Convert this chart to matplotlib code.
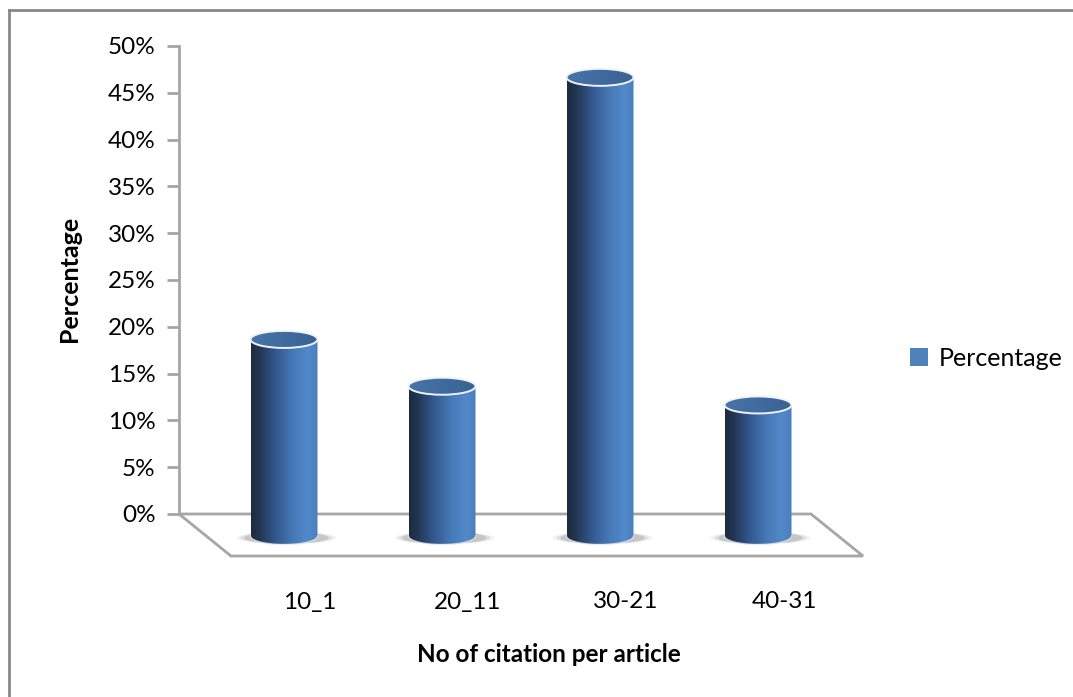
import numpy as np
import matplotlib
matplotlib.use("Agg")
import matplotlib.pyplot as plt
from matplotlib.colors import LinearSegmentedColormap
from matplotlib.lines import Line2D
from matplotlib.patches import Ellipse, PathPatch, Polygon, Patch
from matplotlib.path import Path
from matplotlib.transforms import ScaledTranslation, IdentityTransform

categories = ['10_1', '20_11', '30-21', '40-31']
percentage = [0.21, 0.16, 0.49, 0.14]
yticks = [0.0, 0.05, 0.10, 0.15, 0.20, 0.25, 0.30, 0.35, 0.40, 0.45, 0.50]
series_name = 'Percentage'

plt.rcParams['font.family'] = ['Lato', 'DejaVu Sans']

W, H = 1073, 697
fig = plt.figure(figsize=(W / 100, H / 100), dpi=100)

# plot area in pixels: 0% at y=514, 50% at y=46, one category = 158 px
PX_Y = 936.0
PX_X = 158.0
x_lo, x_hi = -0.5, 3.85
y_lo, y_hi = -(600 - 514) / PX_Y, 0.5
ax = fig.add_axes([179 / W, 1 - 600 / H, (x_hi - x_lo) * PX_X / W, 554 / H])
ax.set_xlim(x_lo, x_hi)
ax.set_ylim(y_lo, y_hi)
ax.set_facecolor('none')

grey = '#a6a6a6'
for s in ['top', 'right', 'bottom']:
    ax.spines[s].set_visible(False)
ax.spines['left'].set_bounds(0, 0.5)
ax.spines['left'].set_color(grey)
ax.spines['left'].set_linewidth(2)
ax.set_yticks(yticks)
ax.set_yticklabels(['{:.0f}%'.format(t * 100) for t in yticks])
ax.tick_params(axis='y', direction='out', length=9, width=2, color=grey,
               labelsize=17.5, pad=8, labelcolor='black')
ax.set_xticks([])


def shifted(dx, dy):
    # oblique depth offset, given in pixels
    return ax.transData + ScaledTranslation(dx / 100, dy / 100, fig.dpi_scale_trans)


front = shifted(52, -42)
mid = shifted(26, -22)

# floor of the 3-D plot
back_l = ax.transData.transform((-0.5, 0))
back_r = ax.transData.transform((3.5, 0))
front_l = front.transform((-0.5, 0))
front_r = front.transform((3.5, 0))
floor = Polygon([back_l, back_r, front_r, front_l], closed=True,
                facecolor='white', edgecolor=grey, lw=2,
                transform=IdentityTransform(), zorder=1)
ax.add_artist(floor)

cyl = LinearSegmentedColormap.from_list('cyl', [
    (0.00, '#1c2b42'), (0.12, '#22354f'), (0.35, '#32558a'),
    (0.62, '#4678b6'), (0.85, '#5189c9'), (1.00, '#4a7fbf')])
cap = LinearSegmentedColormap.from_list('cap', ['#4674a9', '#3a6294'])

bw = 67 / PX_X
ry = 8.5 / PX_Y
grad = np.linspace(0, 1, 256)[None, :]
t = np.linspace(np.pi, 0, 60)

for i, v in enumerate(percentage):
    x0, x1 = i - bw / 2, i + bw / 2

    # soft shadow on the floor, darker at the sides of the base
    for k, a in zip([1.5, 1.38, 1.26], [0.06, 0.10, 0.16]):
        ax.add_patch(Ellipse((i + 0.015, -0.002), bw * k, ry * 1.4, facecolor='#404040',
                             edgecolor='none', alpha=a, transform=mid, zorder=2))

    # cylinder body with horizontal shading
    xs = np.concatenate([[x0], i + bw / 2 * np.cos(t), [x1]])
    ys = np.concatenate([[v], -ry * np.sin(t), [v]])
    body = PathPatch(Path(np.column_stack([xs, ys])), facecolor='none',
                     edgecolor='none', transform=mid)
    ax.add_patch(body)
    img = ax.imshow(grad, cmap=cyl, aspect='auto', extent=(x0, x1, -ry, v),
                    transform=mid, zorder=3, interpolation='bilinear')
    img.set_clip_path(body)

    # light rim along the base
    ax.plot(i + bw / 2 * np.cos(t), -ry * np.sin(t), color='#dfe6ef', lw=1,
            alpha=0.8, transform=mid, zorder=4)

    # top cap, shaded left to right
    top = Ellipse((i, v), bw, 2 * ry, facecolor='none', edgecolor='none',
                  transform=mid, zorder=5)
    ax.add_patch(top)
    cimg = ax.imshow(grad, cmap=cap, aspect='auto', extent=(x0, x1, v - ry, v + ry),
                     transform=mid, zorder=5, interpolation='bilinear')
    cimg.set_clip_path(top)
    ax.add_patch(Ellipse((i, v), bw, 2 * ry, facecolor='none',
                         edgecolor='#eef2f7', lw=1.4, transform=mid, zorder=6))

    # category label under the front edge
    ax.text(i, 0, categories[i], ha='center', va='center', fontsize=17.5,
            transform=shifted(52, -88))

ax.set_xlim(x_lo, x_hi)
ax.set_ylim(y_lo, y_hi)

fig.text(70 / W, 1 - 279 / H, 'Percentage', rotation=90, ha='center', va='center',
         fontsize=18, fontweight='bold')
fig.text(549 / W, 1 - 655 / H, 'No of citation per article', ha='center',
         va='center', fontsize=17.5, fontweight='bold')

fig.legend(handles=[Patch(facecolor='#4f81bd', edgecolor='none', label=series_name)],
           loc='center left', bbox_to_anchor=(910 / W, 1 - 358 / H), frameon=False,
           fontsize=18, handlelength=0.7, handleheight=0.7, handletextpad=0.45,
           borderaxespad=0, borderpad=0)

# frame lines along the top and left edges
fig.add_artist(Line2D([9 / W, 9 / W], [0, 1 - 10 / H], color='#888888', lw=2,
                      transform=fig.transFigure))
fig.add_artist(Line2D([9 / W, 1], [1 - 10 / H, 1 - 10 / H], color='#888888', lw=2,
                      transform=fig.transFigure))

fig.savefig('out.png', dpi=100, facecolor='white')
